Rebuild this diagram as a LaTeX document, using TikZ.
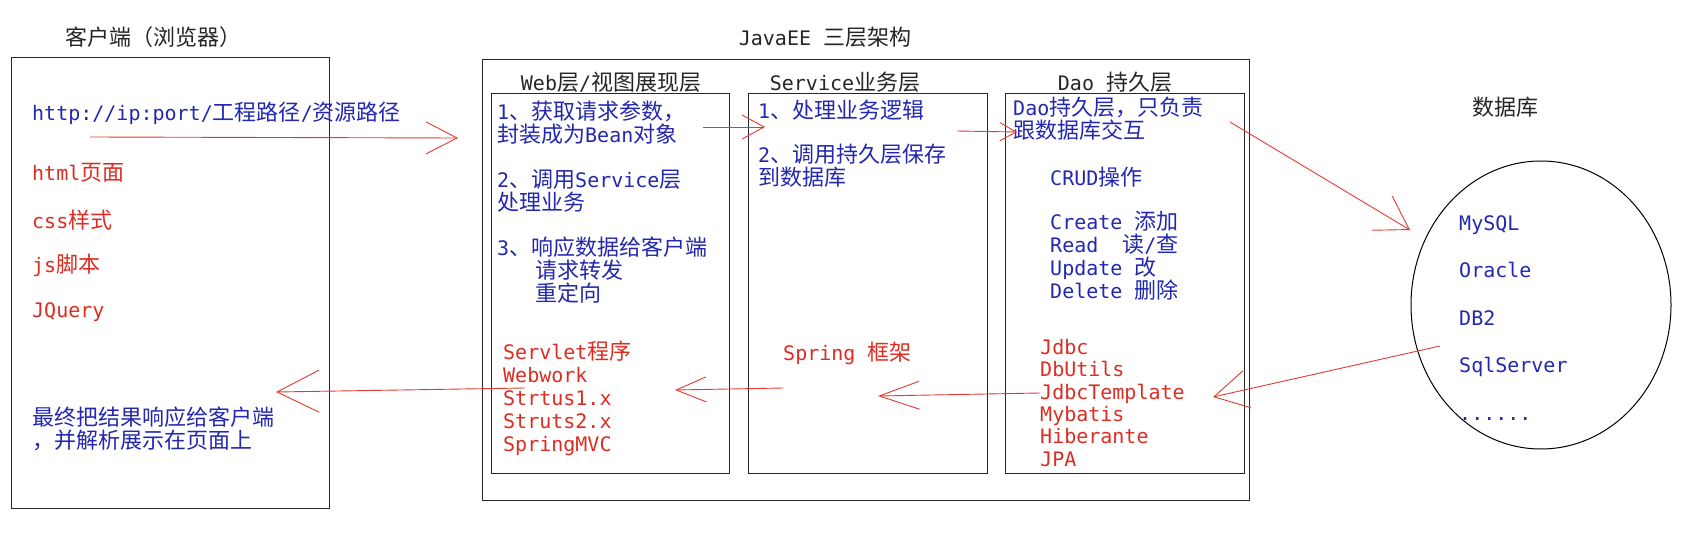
\documentclass[tikz,border=0pt]{standalone}
\usepackage{fontspec}
\setmainfont{DejaVu Sans Mono}
\newfontfamily\latfont{DejaVu Sans Mono}
\newfontfamily\cjkfont[Scale=1.1]{Noto Sans CJK SC}
\usetikzlibrary{arrows.meta,shapes.geometric}
\XeTeXinterchartokenstate=1
\newXeTeXintercharclass\cjkclass
\newcount\cjkcnt
\def\setcjkrange#1#2{\cjkcnt=#1\relax\loop\XeTeXcharclass\cjkcnt=\cjkclass\relax\ifnum\cjkcnt<#2\relax\advance\cjkcnt by 1\relax\repeat}
\setcjkrange{"3000}{"303F}
\setcjkrange{"4E00}{"9FFF}
\setcjkrange{"FF00}{"FFEF}
\XeTeXinterchartoks 0 \cjkclass = {\cjkfont}
\XeTeXinterchartoks 4095 \cjkclass = {\cjkfont}
\XeTeXinterchartoks \cjkclass 0 = {\latfont}
\XeTeXinterchartoks \cjkclass 4095 = {\latfont}
\definecolor{boxc}{RGB}{40,40,40}
\definecolor{txtblue}{RGB}{35,40,175}
\definecolor{txtred}{RGB}{220,45,35}
\definecolor{arrred}{RGB}{225,60,50}
\begin{document}
\begin{tikzpicture}[x=1pt,y=-1pt,
  every node/.style={inner sep=0pt, font=\fontsize{20}{23}\selectfont},
  box/.style={draw=boxc, line width=1.4pt, anchor=north west},
  ttl/.style={text=black!85},
  bt/.style={text=txtblue, align=left},
  rt/.style={text=txtred, align=left},
  arr/.style 2 args={draw=arrred, line width=0.9pt, -{Straight Barb[length=#1pt, width=#2pt]}}]
\useasboundingbox (0,0) rectangle (1689,553);
\fill[white] (0,0) rectangle (1689,553);

% boxes
\node[box, minimum width=318pt, minimum height=451pt] (client) at (11,57) {};
\node[box, minimum width=767pt, minimum height=441pt] (javaee) at (482,59) {};
\node[box, minimum width=238pt, minimum height=380pt] (web) at (491,93) {};
\node[box, minimum width=239pt, minimum height=380pt] (service) at (748,93) {};
\node[box, minimum width=239pt, minimum height=380pt] (dao) at (1005,93) {};
\node[draw=black, line width=1pt, ellipse, minimum width=260pt, minimum height=288pt] (db) at (1541,305) {};

% titles
\node[ttl] (tclient) at (153,37) {客户端（浏览器）};
\node[ttl] (tjavaee) at (825,37) {JavaEE 三层架构};
\node[ttl] (tweb) at (611,82) {Web层/视图展现层};
\node[ttl] (tservice) at (845,82) {Service业务层};
\node[ttl] (tdao) at (1115,82) {Dao 持久层};
\node[ttl] (tdb) at (1505,107) {数据库};

% client texts
\node[bt, anchor=west] (url) at (32,113) {http://ip:port/工程路径/资源路径};
\node[rt, anchor=west] (html) at (32,173) {html页面};
\node[rt, anchor=west] (css) at (32,220) {css样式};
\node[rt, anchor=west] (js) at (32,265) {js脚本};
\node[rt, anchor=west] (jq) at (32,312) {JQuery};
\node[bt, anchor=north west] (final) at (32,407) {最终把结果响应给客户端\\，并解析展示在页面上};

% web texts
\node[bt, anchor=north west] (w1) at (497,101) {1、获取请求参数，\\封装成为Bean对象};
\node[bt, anchor=north west] (w2) at (497,169) {2、调用Service层\\处理业务};
\node[bt, anchor=north west] (w3) at (497,237) {3、响应数据给客户端\\\hspace*{38pt}请求转发\\\hspace*{38pt}重定向};
\node[rt, anchor=north west] (wfw) at (503,341) {Servlet程序\\Webwork\\Strtus1.x\\Struts2.x\\SpringMVC};

% service texts
\node[bt, anchor=west] (s1) at (758,110) {1、处理业务逻辑};
\node[bt, anchor=north west] (s2) at (758,144) {2、调用持久层保存\\到数据库};
\node[rt, anchor=west] (spring) at (783,353) {Spring 框架};

% dao texts
\node[bt, anchor=north west] (d1) at (1013,97) {Dao持久层，只负责\\跟数据库交互};
\node[bt, anchor=west] (crud) at (1050,177) {CRUD操作};
\node[bt, anchor=north west] (crudl) at (1050,211) {Create 添加\\Read~~读/查\\Update 改\\Delete 删除};
\node[rt, anchor=north west, font=\fontsize{20}{22.4}\selectfont] (dfw) at (1040,339) {Jdbc\\DbUtils\\JdbcTemplate\\Mybatis\\Hiberante\\JPA};

% db texts
\node[bt, anchor=north west, font=\fontsize{20}{47.5}\selectfont] (dbl) at (1459,215) {MySQL\\Oracle\\DB2\\SqlServer\\......};

% arrows
\coordinate (a1s) at (90,137);   \coordinate (a1e) at (458,138);
\coordinate (a2s) at (703,127);  \coordinate (a2e) at (765,127);
\coordinate (a3s) at (957,131);  \coordinate (a3e) at (1017,132);
\coordinate (a4s) at (1230,122); \coordinate (a4e) at (1410,230);
\coordinate (a5s) at (1440,346); \coordinate (a5e) at (1213,397);
\coordinate (a6s) at (1040,393); \coordinate (a6e) at (878,396);
\coordinate (a7s) at (783,388);  \coordinate (a7e) at (675,390);
\coordinate (a8s) at (525,388);  \coordinate (a8e) at (276,392);
\draw[arr={31}{32}] (a1s) -- (a1e);
\draw[arr={22}{24}] (a2s) -- (a2e);
\draw[arr={16}{18}] (a3s) -- (a3e);
\draw[arr={32}{40}] (a4s) -- (a4e);
\draw[arr={34}{38}] (a5s) -- (a5e);
\draw[arr={40}{28}] (a6s) -- (a6e);
\draw[arr={30}{25}] (a7s) -- (a7e);
\draw[arr={42}{42}] (a8s) -- (a8e);
\end{tikzpicture}
\end{document}
